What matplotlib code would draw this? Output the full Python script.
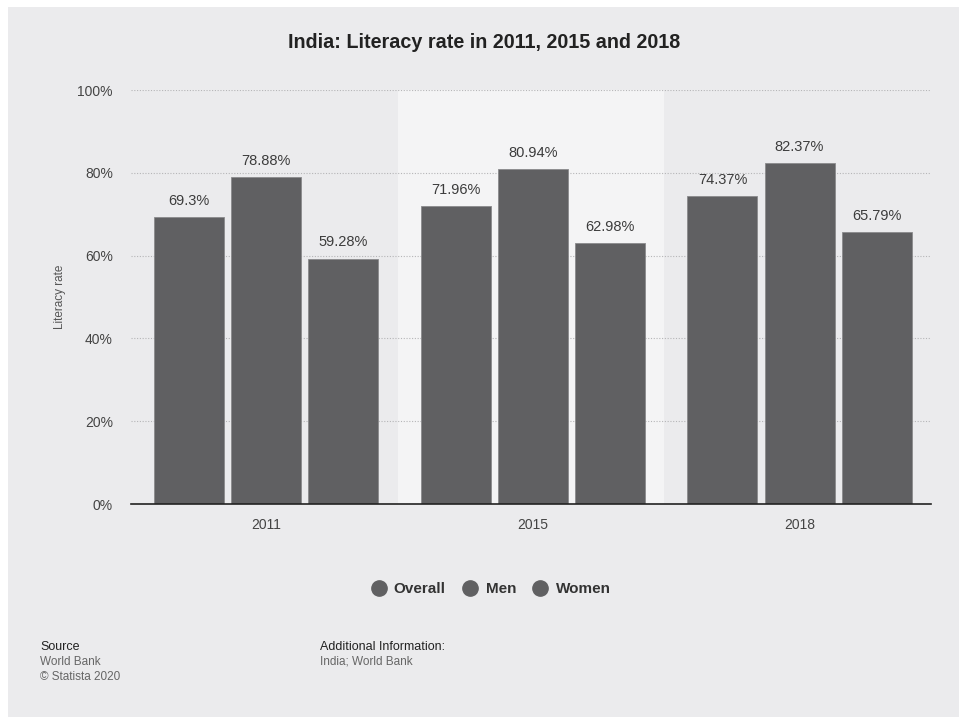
import numpy as np
import matplotlib.pyplot as plt
from matplotlib.lines import Line2D
from matplotlib.patches import Rectangle

plt.rcParams['font.family'] = ['Liberation Sans', 'DejaVu Sans']

years = ['2011', '2015', '2018']
series = ['Overall', 'Men', 'Women']
overall = [69.3, 71.96, 74.37]
men = [78.88, 80.94, 82.37]
women = [59.28, 62.98, 65.79]
labels_overall = ['69.3%', '71.96%', '74.37%']
labels_men = ['78.88%', '80.94%', '82.37%']
labels_women = ['59.28%', '62.98%', '65.79%']

bg = '#ebebed'
bar_col = '#606062'

fig = plt.figure(figsize=(9.59, 7.17), dpi=100, facecolor='white')
# grey panel behind everything
fig.patches.append(Rectangle((8 / 959, 0), 951 / 959, 710 / 717, transform=fig.transFigure,
                             facecolor=bg, edgecolor='none', zorder=-10))

ax = fig.add_axes([131 / 959, (717 - 504) / 717, 800 / 959, 414 / 717])
ax.set_facecolor('none')

x = np.arange(len(years))
w = 0.2625
off = 0.289
shift = 0.007
ax.axvspan(0.5, 1.5, color='#f4f4f5', zorder=0, lw=0)

for vals, labs, d in [(overall, labels_overall, -off), (men, labels_men, 0), (women, labels_women, off)]:
    bars = ax.bar(x + d + shift, vals, width=w, color=bar_col, edgecolor='#8a8a8c', linewidth=0.6, zorder=3)
    for b, lab in zip(bars, labs):
        ax.text(b.get_x() + b.get_width() / 2, b.get_height() + 2.2, lab, ha='center', va='bottom',
                fontsize=10.5, color='#3c3c3c', zorder=4)

ax.set_xlim(-0.5, 2.5)
ax.set_ylim(0, 100)
ax.set_yticks([0, 20, 40, 60, 80, 100])
ax.set_yticklabels(['0%', '20%', '40%', '60%', '80%', '100%'])
ax.set_xticks(x + shift)
ax.set_xticklabels(years)
ax.yaxis.grid(True, linestyle=(0, (1, 1.5)), color='#b5b5b7', linewidth=0.8, zorder=1)
ax.set_axisbelow(True)
for s in ['top', 'right', 'left']:
    ax.spines[s].set_visible(False)
ax.spines['bottom'].set_color('#222222')
ax.spines['bottom'].set_linewidth(1.2)
ax.spines['bottom'].set_zorder(5)
ax.tick_params(axis='both', length=0, labelsize=10, colors='#444444')
ax.tick_params(axis='y', pad=13)
ax.tick_params(axis='x', pad=10)
ax.set_ylabel('Literacy rate', fontsize=8.5, color='#555555', labelpad=8)

fig.text(484 / 959, 1 - 43 / 717, 'India: Literacy rate in 2011, 2015 and 2018', ha='center', va='center',
         fontsize=14.2, fontweight='bold', color='#222222')

handles = [Line2D([], [], marker='o', linestyle='none', markersize=11, color=bar_col) for _ in series]
leg = fig.legend(handles, series, loc='center', bbox_to_anchor=(487 / 959, 1 - 589 / 717), ncol=3,
                 frameon=False, handletextpad=0.0, columnspacing=0.6,
                 prop={'weight': 'bold', 'size': 11})
for t in leg.get_texts():
    t.set_color('#333333')

fig.text(40 / 959, 1 - 647 / 717, 'Source', fontsize=9, color='#222222', va='center')
fig.text(40 / 959, 1 - 662 / 717, 'World Bank', fontsize=8.5, color='#666666', va='center')
fig.text(40 / 959, 1 - 677 / 717, '\u00a9 Statista 2020', fontsize=8.5, color='#666666', va='center')
fig.text(320 / 959, 1 - 647 / 717, 'Additional Information:', fontsize=9, color='#222222', va='center')
fig.text(320 / 959, 1 - 662 / 717, 'India; World Bank', fontsize=8.5, color='#666666', va='center')

fig.savefig('out.png', dpi=100, facecolor='white')
